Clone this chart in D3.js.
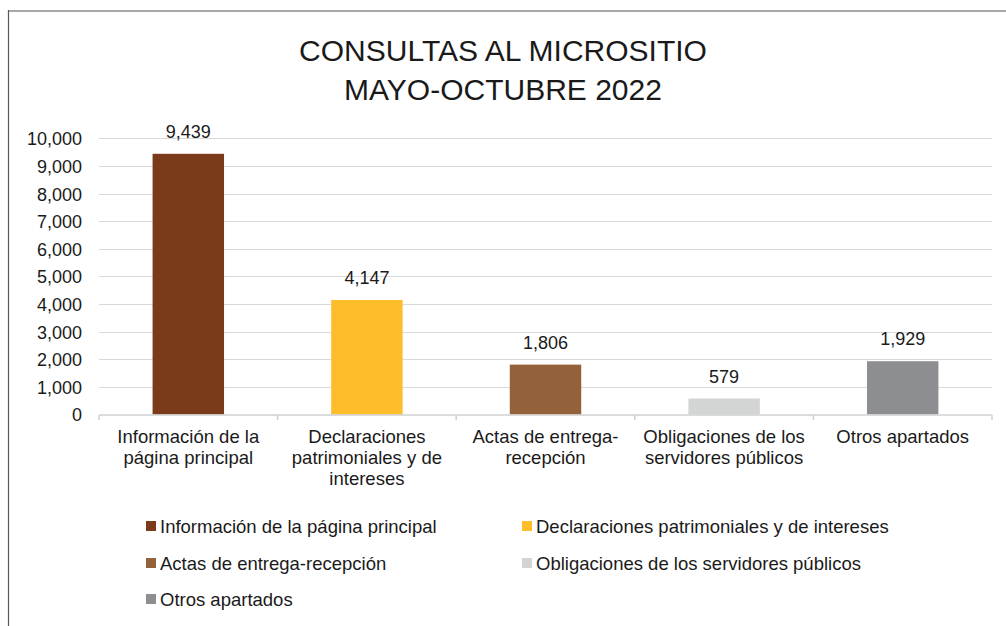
<!DOCTYPE html>
<html>
<head>
<meta charset="utf-8">
<script src="https://cdn.jsdelivr.net/npm/d3@7"></script>
<style>
  body { margin: 0; background: #fff; }
  text { font-family: "Liberation Sans", Arial, sans-serif; fill: #1a1a1a; }
</style>
</head>
<body>
<div id="chart"></div>
<script>
// data
var categories = ["Información de la página principal",
                  "Declaraciones patrimoniales y de intereses",
                  "Actas de entrega-recepción",
                  "Obligaciones de los servidores públicos",
                  "Otros apartados"];
var values = [9439, 4147, 1806, 579, 1929];
// how the axis labels wrap
var axisLines = [["Información de la", "página principal"],
                 ["Declaraciones", "patrimoniales y de", "intereses"],
                 ["Actas de entrega-", "recepción"],
                 ["Obligaciones de los", "servidores públicos"],
                 ["Otros apartados"]];
var colors = ["#7b3b1b", "#febe2b", "#93613a", "#d3d4d4", "#8d8e92"];
var yTicks = [0, 1000, 2000, 3000, 4000, 5000, 6000, 7000, 8000, 9000, 10000];
var titleLines = ["CONSULTAS AL MICROSITIO", "MAYO-OCTUBRE 2022"];

var W = 1006, H = 626;
var plot = {left: 99, right: 992, top: 138.3, bottom: 414.5};

var svg = d3.select("#chart").append("svg")
  .attr("width", W).attr("height", H);

// chart frame (only top and left edges visible)
svg.append("line").attr("x1", 8).attr("x2", W).attr("y1", 11).attr("y2", 11)
  .attr("stroke", "#a8a8a8").attr("stroke-width", 2);
svg.append("line").attr("x1", 8.5).attr("x2", 8.5).attr("y1", 10).attr("y2", H)
  .attr("stroke", "#595959").attr("stroke-width", 1.2);

// title
svg.append("text")
  .attr("x", 503).attr("text-anchor", "middle")
  .attr("font-size", "30px")
  .selectAll("tspan").data(titleLines).enter().append("tspan")
  .attr("x", 503).attr("y", function(d, i){ return 61 + i * 39; })
  .text(function(d){ return d; });

var x = d3.scaleBand()
  .domain(categories)
  .range([plot.left, plot.right])
  .paddingInner(0.6).paddingOuter(0.3);

var y = d3.scaleLinear().domain([0, 10000]).range([plot.bottom, plot.top]);

// gridlines
svg.append("g")
  .selectAll("line").data(yTicks.slice(1)).enter().append("line")
  .attr("x1", plot.left).attr("x2", plot.right)
  .attr("y1", function(d){ return Math.round(y(d)) + 0.5; })
  .attr("y2", function(d){ return Math.round(y(d)) + 0.5; })
  .attr("stroke", "#d9d9d9").attr("stroke-width", 1);

// y axis labels
var yAxis = svg.append("g")
  .attr("transform", "translate(" + 82 + ",0)")
  .call(d3.axisLeft(y).tickValues(yTicks).tickFormat(d3.format(",")).tickSize(0).tickPadding(0));
yAxis.select(".domain").remove();
yAxis.selectAll("text")
  .attr("font-size", "18px")
  .attr("font-family", "Liberation Sans, Arial, sans-serif")
  .attr("fill", "#1a1a1a")
  .attr("dy", "0.36em");

// bars
svg.append("g")
  .selectAll("rect").data(values).enter().append("rect")
  .attr("x", function(d, i){ return x(categories[i]); })
  .attr("width", x.bandwidth())
  .attr("y", function(d){ return y(d); })
  .attr("height", function(d){ return y(0) - y(d); })
  .attr("fill", function(d, i){ return colors[i]; });

// value labels
svg.append("g")
  .selectAll("text").data(values).enter().append("text")
  .attr("x", function(d, i){ return x(categories[i]) + x.bandwidth() / 2; })
  .attr("y", function(d){ return y(d) - 16; })
  .attr("text-anchor", "middle")
  .attr("font-size", "18px")
  .text(function(d){ return d3.format(",")(d); });

// x axis line and boundary ticks
var step = x.step();
svg.append("line")
  .attr("x1", plot.left).attr("x2", plot.right)
  .attr("y1", 415).attr("y2", 415)
  .attr("stroke", "#d0d0d0").attr("stroke-width", 1.5);
svg.append("g")
  .selectAll("line").data(d3.range(categories.length + 1)).enter().append("line")
  .attr("x1", function(d){ return plot.left + d * step; })
  .attr("x2", function(d){ return plot.left + d * step; })
  .attr("y1", 415).attr("y2", 420)
  .attr("stroke", "#d0d0d0").attr("stroke-width", 1.5);

// category labels
svg.append("g")
  .selectAll("text").data(categories).enter().append("text")
  .attr("text-anchor", "middle")
  .attr("font-size", "18.5px")
  .each(function(d, i){
    var cx = x(d) + x.bandwidth() / 2;
    d3.select(this).selectAll("tspan").data(axisLines[i]).enter().append("tspan")
      .attr("x", cx)
      .attr("y", function(t, j){ return 443 + j * 21; })
      .text(function(t){ return t; });
  });

// legend
var legendPos = [[146, 526], [522, 526], [146, 563], [522, 563], [146, 599]];
var legend = svg.append("g")
  .selectAll("g").data(categories).enter().append("g")
  .attr("transform", function(d, i){ return "translate(" + legendPos[i][0] + "," + legendPos[i][1] + ")"; });
legend.append("rect")
  .attr("x", 0).attr("y", -5).attr("width", 10).attr("height", 10)
  .attr("fill", function(d, i){ return colors[i]; });
legend.append("text")
  .attr("x", 14).attr("y", 0).attr("dy", "0.36em")
  .attr("font-size", "18.5px")
  .text(function(d){ return d; });
</script>
</body>
</html>
